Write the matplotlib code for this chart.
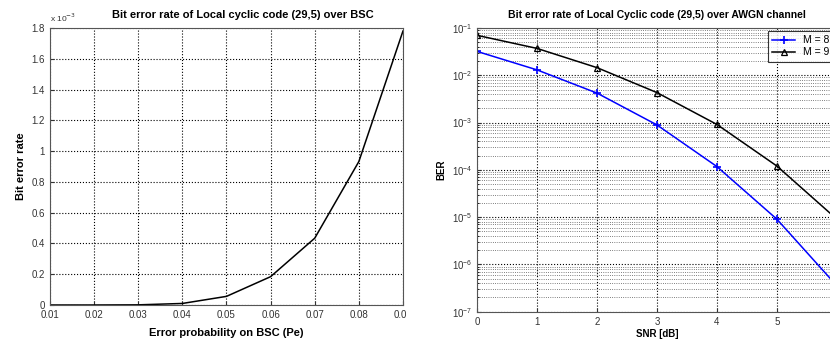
import numpy as np
import matplotlib
matplotlib.use("Agg")
import matplotlib.pyplot as plt
from matplotlib.ticker import FuncFormatter, LogLocator, NullFormatter
from matplotlib.patches import Rectangle

plt.rcParams['font.family'] = ['Liberation Sans', 'DejaVu Sans']

# left panel: BER over BSC
pe = [0.01, 0.02, 0.03, 0.04, 0.05, 0.06, 0.07, 0.08, 0.09]
ber_bsc = [0.0, 0.0, 0.001e-3, 0.01e-3, 0.056e-3, 0.184e-3, 0.434e-3, 0.932e-3, 1.78e-3]

# right panel: BER over AWGN
snr = [0, 1, 2, 3, 4, 5, 6]
ber_m8 = [3.2e-2, 1.3e-2, 4.2e-3, 8.9e-4, 1.17e-4, 9e-6, 3.5e-7]
ber_m9 = [7e-2, 3.7e-2, 1.45e-2, 4.3e-3, 9.1e-4, 1.2e-4, 9e-6]

fig = plt.figure(figsize=(8.3, 3.43), dpi=100)

tick_kw = dict(labelsize=7, direction='in', colors='#333333', length=3)

# ---- left chart
ax1 = fig.add_axes([0.0602, 0.1108, 0.4253, 0.8076])
ax1.plot(pe, ber_bsc, color='black', lw=1.1)
ax1.set_xlim(0.01, 0.09)
ax1.set_ylim(0, 1.8e-3)
ax1.set_xticks(np.arange(0.01, 0.0901, 0.01))
ax1.set_yticks(np.arange(0, 1.801e-3, 0.2e-3))
ax1.xaxis.set_major_formatter(FuncFormatter(lambda v, p: '%.2f' % v))
ax1.yaxis.set_major_formatter(FuncFormatter(lambda v, p: '%g' % round(v * 1e3, 2)))
ax1.tick_params(**tick_kw)
ax1.grid(True, linestyle=':', color='black', lw=0.8)
ax1.text(0.0, 1.015, r'x 10$^{-3}$', transform=ax1.transAxes, fontsize=6,
         color='#333333', ha='left', va='bottom')
ax1.text(0.547, 1.03, 'Bit error rate of Local cyclic code (29,5) over BSC',
         transform=ax1.transAxes, fontsize=8, fontweight='bold', ha='center', va='bottom')
ax1.set_xlabel('Error probability on BSC (Pe)', fontsize=8, fontweight='bold', labelpad=6)
ax1.set_ylabel('Bit error rate', fontsize=8, fontweight='bold', labelpad=4)
for s in ax1.spines.values():
    s.set_color('#555555')

# ---- right chart (runs past the figure edge like the cropped original)
ax2 = fig.add_axes([0.5747, 0.0913, 0.4337, 0.8271])
ax2.semilogy(snr, ber_m8, color='blue', marker='+', ms=6, mew=1.2, lw=1.1, label='M = 8')
ax2.semilogy(snr, ber_m9, color='black', marker='^', ms=4.5, mfc='none', mew=0.9, lw=1.1, label='M = 9')
ax2.set_xlim(0, 6)
ax2.set_ylim(1e-7, 1e-1)
ax2.set_xticks(snr)
ax2.yaxis.set_major_locator(LogLocator(base=10, numticks=10))
ax2.yaxis.set_minor_locator(LogLocator(base=10, subs=np.arange(2, 10), numticks=20))
ax2.yaxis.set_minor_formatter(NullFormatter())
ax2.tick_params(**tick_kw)
ax2.tick_params(which='minor', direction='in', length=1.5)
ax2.grid(True, which='major', linestyle=':', color='black', lw=0.8)
ax2.grid(True, which='minor', axis='y', linestyle=':', color='#555555', lw=0.6)
ax2.set_title('Bit error rate of Local Cyclic code (29,5) over AWGN channel',
              fontsize=7.5, fontweight='bold', pad=7)
ax2.set_xlabel('SNR [dB]', fontsize=7, fontweight='bold', labelpad=2)
ax2.set_ylabel('BER', fontsize=7, fontweight='bold', labelpad=4)
leg = ax2.legend(loc='upper right', fontsize=7.5, frameon=True, fancybox=False,
                 borderaxespad=0.3, handlelength=2.2, labelspacing=0.2)
leg.get_frame().set_edgecolor('black')
leg.get_frame().set_linewidth(0.8)
for s in ax2.spines.values():
    s.set_color('#555555')

# the original left panel was cut right at its right border
fig.patches.append(Rectangle((406 / 830, 15 / 343), 22 / 830, 23 / 343, transform=fig.transFigure,
                             facecolor='white', edgecolor='none', zorder=10))

fig.savefig('out.png', dpi=100)
